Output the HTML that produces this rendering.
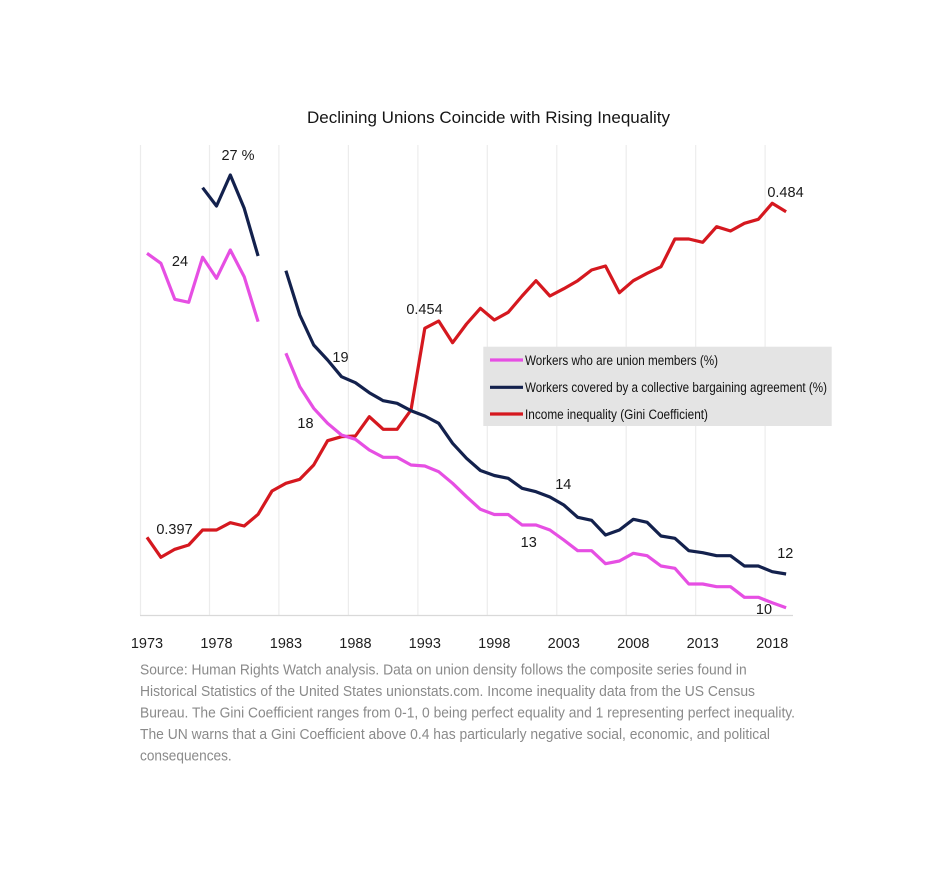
<!DOCTYPE html>
<html>
<head>
<meta charset="utf-8">
<style>
html,body{margin:0;padding:0;background:#fff;}
svg{display:block;}
text{font-family:"Liberation Sans",sans-serif;}
</style>
</head>
<body>
<svg width="946" height="871" viewBox="0 0 946 871" xmlns="http://www.w3.org/2000/svg">
<rect x="0" y="0" width="946" height="871" fill="#fff"/>
<!-- title -->
<text x="307" y="123" font-size="17" fill="#151515" textLength="363" lengthAdjust="spacingAndGlyphs">Declining Unions Coincide with Rising Inequality</text>

<!-- gridlines -->
<g stroke="#ececec" stroke-width="1.2">
<line x1="140.5" y1="145" x2="140.5" y2="615"/>
<line x1="209.5" y1="145" x2="209.5" y2="615"/>
<line x1="278.9" y1="145" x2="278.9" y2="615"/>
<line x1="348.4" y1="145" x2="348.4" y2="615"/>
<line x1="417.9" y1="145" x2="417.9" y2="615"/>
<line x1="487.3" y1="145" x2="487.3" y2="615"/>
<line x1="556.8" y1="145" x2="556.8" y2="615"/>
<line x1="626.2" y1="145" x2="626.2" y2="615"/>
<line x1="695.7" y1="145" x2="695.7" y2="615"/>
<line x1="765.1" y1="145" x2="765.1" y2="615"/>
</g>
<line x1="140" y1="615.5" x2="793" y2="615.5" stroke="#d9d9d9" stroke-width="1.3"/>

<!-- tick labels -->
<g font-size="14.5" fill="#1e1e1e" text-anchor="middle">
<text x="147" y="648">1973</text>
<text x="216.5" y="648">1978</text>
<text x="285.9" y="648">1983</text>
<text x="355.4" y="648">1988</text>
<text x="424.8" y="648">1993</text>
<text x="494.3" y="648">1998</text>
<text x="563.8" y="648">2003</text>
<text x="633.3" y="648">2008</text>
<text x="702.7" y="648">2013</text>
<text x="772.2" y="648">2018</text>
</g>

<g fill="none" stroke-width="3.2" stroke-linejoin="round" stroke-linecap="butt">
<!-- red Gini -->
<polyline stroke="#d5181f" points="147,537.3 160.9,557.3 174.8,549.3 188.7,545 202.6,530 216.5,530 230.3,522.7 244.2,526 258.1,514.3 272,491 285.9,483.3 299.8,479.3 313.7,465 327.6,440.7 341.5,436.7 355.4,436 369.3,416.7 383.2,429.3 397.1,429.3 411,410 424.8,328.3 438.7,321 452.6,342.7 466.5,324 480.4,308.3 494.3,320 508.2,312.3 522.1,296 536,280.7 549.9,296 563.8,288.7 577.7,280.7 591.6,270 605.5,266 619.4,292.7 633.3,280.7 647.1,273.3 661,266.7 674.9,239 688.8,239 702.7,242.3 716.6,226.7 730.5,231 744.4,223.3 758.3,219.3 772.2,203.3 786.1,211.7"/>
<!-- navy -->
<polyline stroke="#13214d" points="202.6,187.7 216.5,206 230.3,175 244.2,208.3 258.1,256"/>
<polyline stroke="#13214d" points="285.9,270.7 299.8,315 313.7,345 327.6,360 341.5,376.7 355.4,382.7 369.3,392.7 383.2,400.7 397.1,403.3 411,410.7 424.8,416 438.7,423.3 452.6,443.3 466.5,458.3 480.4,470.5 494.3,475.5 508.2,478.3 522.1,488.3 536,491.7 549.9,497 563.8,505 577.7,517.3 591.6,520.3 605.5,535 619.4,530 633.3,519.3 647.1,522.3 661,536 674.9,538.3 688.8,550.7 702.7,552.7 716.6,555.7 730.5,555.7 744.4,566 758.3,566 772.2,571.7 786.1,574"/>
<!-- pink -->
<polyline stroke="#e64fe3" points="147,253.3 160.9,263.3 174.8,299.3 188.7,302.3 202.6,257.3 216.5,278.3 230.3,250 244.2,276.7 258.1,321.7"/>
<polyline stroke="#e64fe3" points="285.9,353.3 299.8,386.7 313.7,408.3 327.6,423.3 341.5,435 355.4,439.3 369.3,450 383.2,457.3 397.1,457.3 411,465 424.8,466 438.7,471.7 452.6,483.3 466.5,496.7 480.4,509.3 494.3,514.5 508.2,514.5 522.1,525 536,525 549.9,530 563.8,540 577.7,550.7 591.6,550.7 605.5,563.7 619.4,561 633.3,553.3 647.1,555.7 661,566 674.9,568.3 688.8,584 702.7,584 716.6,586.7 730.5,586.7 744.4,597.3 758.3,597.3 772.2,602.7 786.1,607.7"/>
</g>

<!-- data labels -->
<g font-size="14.5" fill="#1a1a1a" text-anchor="middle">
<text x="238" y="160">27 %</text>
<text x="180" y="266">24</text>
<text x="340.5" y="362">19</text>
<text x="305.5" y="428">18</text>
<text x="424.5" y="314">0.454</text>
<text x="174.5" y="534">0.397</text>
<text x="785.5" y="197">0.484</text>
<text x="563.3" y="489">14</text>
<text x="528.7" y="547">13</text>
<text x="785.3" y="558">12</text>
<text x="764" y="614">10</text>
</g>

<!-- legend -->
<rect x="483.3" y="346.7" width="348.4" height="79.3" fill="#e4e4e4"/>
<g stroke-width="3.2">
<line x1="490" y1="360" x2="523" y2="360" stroke="#e64fe3"/>
<line x1="490" y1="387.3" x2="523" y2="387.3" stroke="#13214d"/>
<line x1="490" y1="414" x2="523" y2="414" stroke="#d5181f"/>
</g>
<g font-size="13.5" fill="#111">
<text x="525" y="364.8" textLength="193" lengthAdjust="spacingAndGlyphs">Workers who are union members (%)</text>
<text x="525" y="392" textLength="302" lengthAdjust="spacingAndGlyphs">Workers covered by a collective bargaining agreement (%)</text>
<text x="525" y="418.8" textLength="183" lengthAdjust="spacingAndGlyphs">Income inequality (Gini Coefficient)</text>
</g>

<!-- source -->
<g font-size="14.5" fill="#8a8a8a">
<text x="140" y="674.3" textLength="606.7" lengthAdjust="spacingAndGlyphs">Source: Human Rights Watch analysis. Data on union density follows the composite series found in</text>
<text x="140" y="695.8" textLength="615" lengthAdjust="spacingAndGlyphs">Historical Statistics of the United States unionstats.com. Income inequality data from the US Census</text>
<text x="140" y="717.5" textLength="655" lengthAdjust="spacingAndGlyphs">Bureau. The Gini Coefficient ranges from 0-1, 0 being perfect equality and 1 representing perfect inequality.</text>
<text x="140" y="738.8" textLength="630" lengthAdjust="spacingAndGlyphs">The UN warns that a Gini Coefficient above 0.4 has particularly negative social, economic, and political</text>
<text x="140" y="760.3" textLength="91.7" lengthAdjust="spacingAndGlyphs">consequences.</text>
</g>
</svg>
</body>
</html>
